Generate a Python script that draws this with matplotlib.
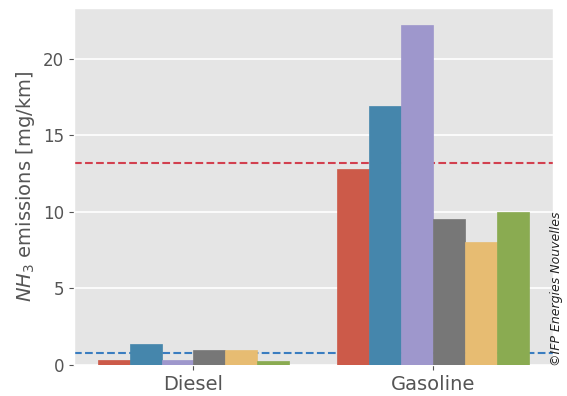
import matplotlib
matplotlib.use("Agg")
import matplotlib.pyplot as plt
import numpy as np
import seaborn as sns

plt.style.use("ggplot")

categories = ["Diesel", "Gasoline"]
series_names = ["A", "B", "C", "D", "E", "F"]
values = {
    "A": [0.35, 12.8],
    "B": [1.35, 16.9],
    "C": [0.35, 22.2],
    "D": [1.0, 9.5],
    "E": [1.0, 8.0],
    "F": [0.3, 10.0],
}
gasoline_limit = 13.2
diesel_limit = 0.8

base_colors = ["#E24A33", "#348ABD", "#988ED5", "#777777", "#FBC15E", "#8EBA42"]
colors = [sns.desaturate(c, 0.75) for c in base_colors]

fig, ax = plt.subplots(figsize=(5.67, 3.96), dpi=100)
fig.subplots_adjust(left=0.13, right=0.975, top=0.98, bottom=0.078)

n = len(series_names)
width = 0.8 / n
x = np.arange(len(categories))
for i, name in enumerate(series_names):
    ax.bar(x - 0.4 + width * (i + 0.5), values[name], width, color=colors[i],
           edgecolor=colors[i], linewidth=0.5, zorder=3)

ax.axhline(gasoline_limit, color="#D2404F", linestyle="--", linewidth=1.5, zorder=2)
ax.axhline(diesel_limit, color="#3A7DC0", linestyle="--", linewidth=1.5, zorder=2)

ax.set_xlim(-0.5, 1.5)
ax.set_ylim(0, 23.3)
ax.set_xticks(x)
ax.set_xticklabels(categories, fontsize=14)
ax.set_yticks([0, 5, 10, 15, 20])
ax.tick_params(axis="y", labelsize=12)
ax.grid(axis="x", visible=False)
ax.grid(axis="y", color="white", linewidth=1.2)
ax.set_axisbelow(True)
ax.set_ylabel(r"$NH_3$ emissions [mg/km]", fontsize=14, color="#555555")

fig.text(0.993, 0.27, "©IFP Energies Nouvelles", rotation=90, fontsize=9,
         style="italic", ha="right", va="center", color="#222222")

fig.savefig("out.png")
